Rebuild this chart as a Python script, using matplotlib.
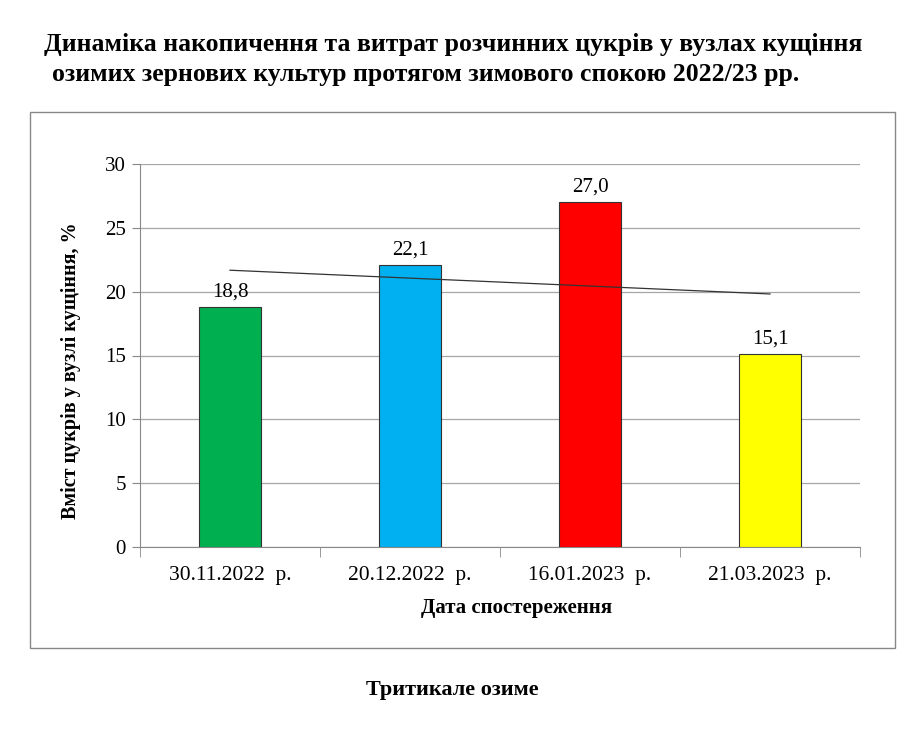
import numpy as np
import matplotlib
matplotlib.use("Agg")
import matplotlib.pyplot as plt
from matplotlib.patches import Rectangle

dates = ["30.11.2022  р.", "20.12.2022  р.", "16.01.2023  р.", "21.03.2023  р."]
sugar = [18.8, 22.1, 27.0, 15.1]
bar_colors = ["#00b050", "#00b0f0", "#ff0000", "#ffff00"]
yticks = [0, 5, 10, 15, 20, 25, 30]

plt.rcParams['font.family'] = ['Liberation Serif', 'DejaVu Serif']

W, H = 920, 734
fig = plt.figure(figsize=(W / 100, H / 100), dpi=100)

# outer frame around the chart area
fig.patches.append(Rectangle((30 / W, 1 - 648 / H), 865 / W, 536 / H,
                             transform=fig.transFigure, fill=False,
                             edgecolor="#888888", linewidth=1))

ax = fig.add_axes([140 / W, 1 - 547 / H, 720 / W, 383 / H])
x = np.arange(len(dates))
ax.bar(x, sugar, width=0.34, color=bar_colors, edgecolor="#333333", linewidth=0.8, zorder=3)

for xi, v in zip(x, sugar):
    ax.text(xi, v + 0.45, "{:.1f}".format(v).replace(".", ","), ha="center", va="bottom", fontsize=15)

# linear trend
k, b = np.polyfit(x, sugar, 1)
ax.plot(x, k * x + b, color="#333333", linewidth=0.9, zorder=4)

ax.set_xlim(-0.5, len(dates) - 0.5)
ax.set_ylim(0, 30)
ax.set_yticks(yticks)
ax.tick_params(axis="y", labelsize=15, length=6, color="#888888", pad=4)
ax.set_xticks(x)
ax.set_xticklabels(dates, fontsize=15.5)
ax.tick_params(axis="x", length=0, pad=14)
ax.set_xticks(np.arange(-0.5, len(dates)), minor=True)
ax.tick_params(axis="x", which="minor", length=7, color="#888888")
ax.grid(axis="y", color="#a6a6a6", linewidth=0.9, zorder=0)
for s in ["top", "right"]:
    ax.spines[s].set_visible(False)
ax.spines["left"].set_color("#888888")
ax.spines["bottom"].set_color("#888888")

ax.set_ylabel("Вміст цукрів у вузлі кущіння, %", fontsize=14.5, fontweight="bold")
ax.yaxis.set_label_coords((81 - 140) / 720, (547 - 371) / 383)
ax.set_xlabel("Дата спостереження", fontsize=15, fontweight="bold")
ax.xaxis.set_label_coords((517 - 140) / 720, (547 - 598) / 383)

fig.text(453 / W, 1 - 45 / H, "Динаміка накопичення та витрат розчинних цукрів у вузлах кущіння",
         ha="center", va="center", fontsize=18.5, fontweight="bold")
fig.text(426 / W, 1 - 75 / H, "озимих зернових культур протягом зимового спокою 2022/23 рр.",
         ha="center", va="center", fontsize=18.5, fontweight="bold")
fig.text(452 / W, 1 - 690 / H, "Тритикале озиме", ha="center", va="center",
         fontsize=16, fontweight="bold")

fig.savefig("out.png", dpi=100)
